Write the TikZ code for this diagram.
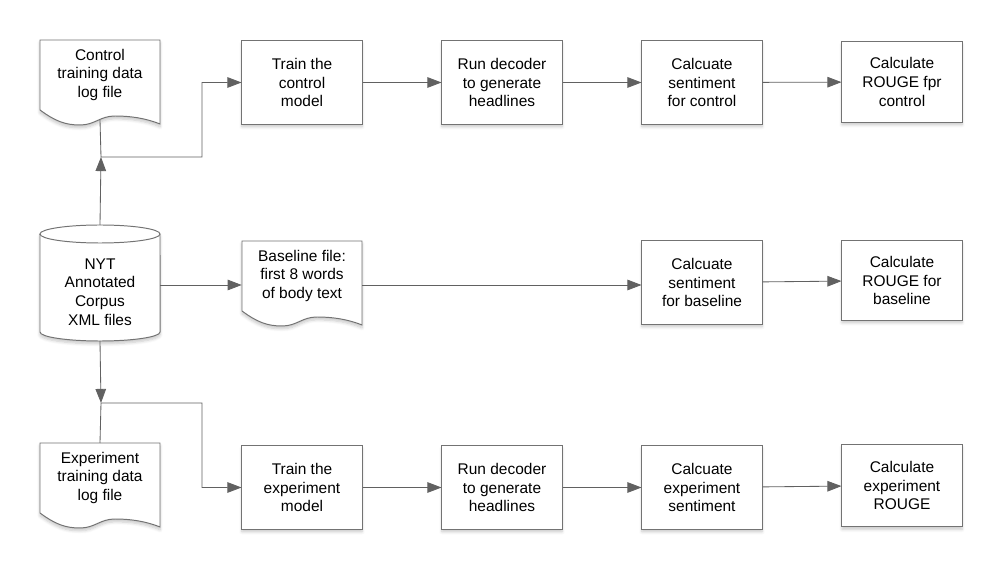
\documentclass[tikz,border=0pt]{standalone}
\usepackage{fontspec}
\setmainfont{Liberation Sans}
\usetikzlibrary{arrows.meta,calc,shadows.blur}
\tikzset{
  softshadow/.style={blur shadow={shadow xshift=0pt,shadow yshift=-2pt,shadow blur steps=6,shadow opacity=22}},
  box/.style={draw=black!55,fill=white,line width=0.7pt,minimum width=3cm,minimum height=2.075cm,align=center,softshadow},
  doc/.style={minimum width=3cm,minimum height=1.75cm,inner sep=0pt,align=center},
  shapeline/.style={draw=black!55,fill=white,line width=0.7pt,softshadow},
  flow/.style={draw=black!62,line width=0.6pt,-{Triangle[length=10pt,width=7.5pt]}}
}
% document outline with a wavy bottom, centred on the text of the document
\newcommand{\docshape}[2]{%
  \coordinate (#1-c) at (#2);
  \draw[shapeline] ($(#1-c)+(-60,-35)$) -- ++(0,70)
    .. controls +(15,11) and +(-15,0) .. ++(40,15)
    .. controls +(15,0) and +(-15,0) .. ++(35,-9)
    .. controls +(15,0) and +(-15,-6) .. ++(45,8)
    -- ($(#1-c)+(60,-35)$) -- cycle;
  \coordinate (#1-b) at ($(#1-c)+(0,45)$);
  \coordinate (#1-t) at ($(#1-c)+(0,-35)$);}
% database drum
\newcommand{\drum}[2]{%
  \coordinate (#1-c) at (#2);
  \draw[shapeline] ($(#1-c)+(-60,-58)$) -- ($(#1-c)+(-60,40)$)
    arc[start angle=180,end angle=360,x radius=1.5cm,y radius=0.225cm]
    -- ($(#1-c)+(60,-58)$)
    arc[start angle=0,end angle=180,x radius=1.5cm,y radius=0.225cm] -- cycle;
  \draw[draw=black!55,line width=0.7pt] ($(#1-c)+(-60,-58)$)
    arc[start angle=180,end angle=360,x radius=1.5cm,y radius=0.225cm];
  \coordinate (#1-t) at ($(#1-c)+(0,-67)$);
  \coordinate (#1-b) at ($(#1-c)+(0,49)$);
  \coordinate (#1-r) at ($(#1-c)+(60,-7)$);}
\begin{document}
\begin{tikzpicture}[x=0.025cm,y=-0.025cm,font=\fontsize{11}{13.3}\selectfont]
\useasboundingbox (0,0) rectangle (1002,570);

% sources
\docshape{ctrl}{100,75}
\drum{nyt}{100,292}
\docshape{base}{302,276}
\docshape{expt}{100,478}
\node[doc] (ctrl) at (ctrl-c) {Control\\training data\\log file};
\node[doc,minimum height=2.9cm] (nyt) at (nyt-c) {NYT\\Annotated\\Corpus\\XML files};
\node[doc] (base) at (base-c) {Baseline file:\\first 8 words\\of body text};
\node[doc] (expt) at (expt-c) {Experiment\\training data\\log file};

% control row
\node[box] (trainc) at (302,82.5) {Train the\\control\\model};
\node[box] (decc) at (502,82.5) {Run decoder\\to generate\\headlines};
\node[box] (sentc) at (702,82.5) {Calcuate\\sentiment\\for control};
\node[box,minimum height=2cm] (rougec) at (902,82) {Calculate\\ROUGE fpr\\control};

% baseline row
\node[box] (sentb) at (702,282.5) {Calcuate\\sentiment\\for baseline};
\node[box,minimum height=1.975cm] (rougeb) at (902,280.5) {Calculate\\ROUGE for\\baseline};

% experiment row
\node[box] (traine) at (302,487.5) {Train the\\experiment\\model};
\node[box] (dece) at (502,487.5) {Run decoder\\to generate\\headlines};
\node[box] (sente) at (702,487.5) {Calcuate\\experiment\\sentiment};
\node[box,minimum height=2.05cm] (rougee) at (902,485.5) {Calculate\\experiment\\ROUGE};

% junctions
\coordinate (jt) at (101,157);
\coordinate (kt) at (202,157);
\coordinate (jb) at (101,403);
\coordinate (kb) at (202,403);

\draw[flow] (nyt-t) -- (jt);
\draw[flow] (ctrl-b) -- (jt) -- (kt) |- (trainc);
\draw[flow] (nyt-b) -- (jb);
\draw[flow] (expt-t) -- (jb) -- (kb) |- (traine);
\draw[flow] (nyt-r) -- (nyt-r -| base.west);
\draw[flow] (nyt-r -| base.east) -- (nyt-r -| sentb.west);

\foreach \a/\b in {trainc/decc,decc/sentc,sentc/rougec,sentb/rougeb,traine/dece,dece/sente,sente/rougee}
  \draw[flow] (\a) -- (\b);
\end{tikzpicture}
\end{document}
